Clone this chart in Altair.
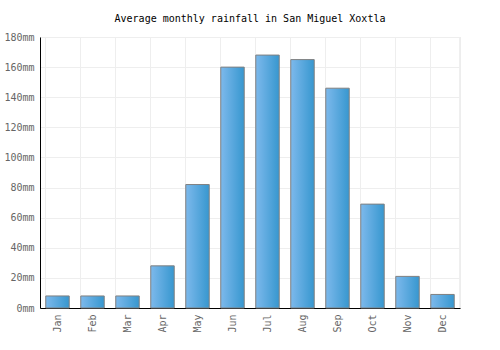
import altair as alt
import pandas as pd

months = ["Jan", "Feb", "Mar", "Apr", "May", "Jun", "Jul", "Aug", "Sep", "Oct", "Nov", "Dec"]
rainfall = [8, 8, 8, 28, 82, 160, 168, 165, 146, 69, 21, 9]

df = pd.DataFrame({"month": months, "rain": rainfall})

FONT = "DejaVu Sans Mono"
W, H = 420, 271

bars = alt.Chart(df).mark_bar(
    color=alt.Gradient(
        gradient="linear",
        stops=[alt.GradientStop(offset=0, color="#7db9ec"),
               alt.GradientStop(offset=1, color="#3797cf")],
        x1=0, x2=1, y1=0, y2=0,
    ),
    stroke="#808080",
    strokeWidth=1,
).encode(
    x=alt.X("month:N", sort=months,
            scale=alt.Scale(paddingInner=0.33, paddingOuter=0.165),
            axis=alt.Axis(title=None, labelAngle=-90, labelFont=FONT, labelFontSize=10,
                          labelColor="#666", grid=True, bandPosition=0, gridColor="#eeeeee",
                          domainColor="#000", ticks=False, labelPadding=6)),
    y=alt.Y("rain:Q", scale=alt.Scale(domain=[0, 180], nice=False),
            axis=alt.Axis(title=None, values=list(range(0, 181, 20)),
                          labelExpr="datum.value + 'mm'", labelFont=FONT, labelFontSize=10,
                          labelColor="#666", gridColor="#eeeeee", domainColor="#000",
                          ticks=False, labelPadding=6)),
)

right_grid = alt.Chart(df).mark_rule(color="#eeeeee").encode(
    x=alt.value(W), y=alt.value(0), y2=alt.value(H)
)

chart = alt.layer(right_grid, bars).properties(
    width=W, height=H,
    title=alt.TitleParams("Average monthly rainfall in San Miguel Xoxtla",
                          font=FONT, fontSize=10, fontWeight="normal", color="#000",
                          offset=8),
    autosize=alt.AutoSizeParams(type="none"),
    padding={"left": 40, "top": 37, "right": 40, "bottom": 42},
).configure_view(stroke=None).configure(background="white")

chart.save("out.html", embed_options={"renderer": "svg", "actions": False})
